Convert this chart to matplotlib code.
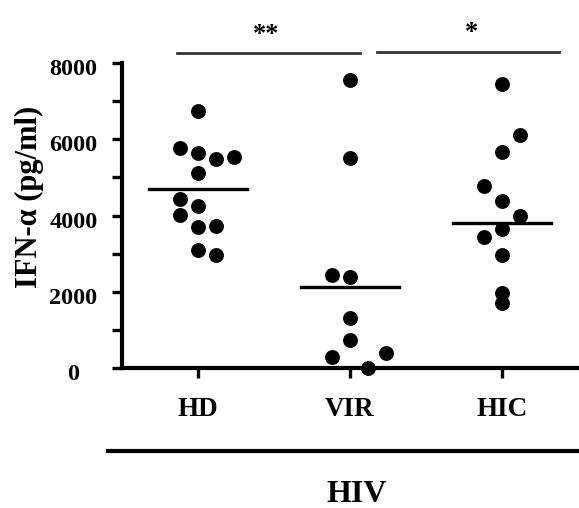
import matplotlib
matplotlib.use("Agg")
import matplotlib.pyplot as plt
from matplotlib.lines import Line2D
from matplotlib.transforms import ScaledTranslation
import numpy as np

plt.rcParams['font.family'] = ['Liberation Serif', 'DejaVu Serif']
plt.rcParams['font.weight'] = 'bold'

categories = ["HD", "VIR", "HIC"]
hd_values = [6741, 5762, 5648, 5543, 5473, 5123, 4433, 4257, 4013, 3725, 3706, 3095, 2964]
vir_values = [7554, 5517, 2439, 2395, 1303, 734, 402, 280, 0]
hic_values = [7449, 6111, 5674, 4782, 4388, 3987, 3638, 3444, 2964, 1975, 1697]
center_lines = [4695, 2115, 3795]
y_ticks = [0, 2000, 4000, 6000, 8000]
group_label = "HIV"
ylabel = "IFN-\u03b1 (pg/ml)"
sig_labels = ["**", "*"]

# layout: swarm slot for each point (horizontal column index)
hd_slots = [0, -1, 0, 2, 1, 0, -1, 0, -1, 1, 0, 0, 1]
vir_slots = [0, 0, -1, 0, 0, 0, 2, -1, 1]
hic_slots = [0, 1, 0, -1, 0, 1, 0, -1, 0, 0, 0]
slot_w = 0.12

W, H = 579, 508
fig = plt.figure(figsize=(W / 100, H / 100), dpi=100)
x0, x1, ytop, ybot = 122, 578, 63, 368
ax = fig.add_axes([x0 / W, 1 - ybot / H, (x1 - x0) / W, (ybot - ytop) / H])

for i, (vals, slots) in enumerate([(hd_values, hd_slots), (vir_values, vir_slots), (hic_values, hic_slots)]):
    xs = i + np.array(slots) * slot_w
    ax.scatter(xs, vals, s=115, color='black', zorder=3, clip_on=False, linewidths=0)
    ax.plot([i - 0.325, i + 0.325], [center_lines[i]] * 2, color='black', lw=2.4, zorder=4)

ax.set_xlim(-0.5, 2.5)
ax.set_ylim(0, 8000)
all_ticks = np.arange(0, 8001, 1000)
ax.set_yticks(all_ticks)
ax.set_yticklabels([str(v) if v in y_ticks else "" for v in all_ticks])
ax.set_xticks(range(len(categories)))
ax.set_xticklabels([])
for sp in ['top', 'right']:
    ax.spines[sp].set_visible(False)
for sp in ['left', 'bottom']:
    ax.spines[sp].set_linewidth(3)
ax.tick_params(axis='y', length=7, width=2.4, labelsize=17.5, pad=28)
ax.tick_params(axis='x', length=7, width=2.4)
shift = ScaledTranslation(0, -4 / 100, fig.dpi_scale_trans)
for lab in ax.get_yticklabels():
    lab.set_fontweight('bold')
    lab.set_horizontalalignment('center')
    lab.set_transform(lab.get_transform() + shift)

# category labels
for i, c in enumerate(categories):
    ax.annotate(c, xy=(i, 0), xycoords=('data', 'axes fraction'), xytext=(0, -(410 - ybot) * 0.72),
                textcoords='offset points', ha='center', va='center', fontsize=19.5, fontweight='bold')

fig.text(29 / W, 1 - 197 / H, ylabel, rotation=90, ha='center', va='center',
         fontsize=22, fontweight='bold')

# bottom group line and label
fig.add_artist(Line2D([108 / W, 1.0], [1 - 451 / H] * 2, color='black', lw=3, transform=fig.transFigure))
fig.text(357 / W, 1 - 495 / H, group_label, ha='center', va='center', fontsize=23, fontweight='bold')

# significance bars
fig.add_artist(Line2D([177 / W, 360 / W], [1 - 53 / H] * 2, color='#333333', lw=2, transform=fig.transFigure))
fig.add_artist(Line2D([377 / W, 559 / W], [1 - 52 / H] * 2, color='#333333', lw=2, transform=fig.transFigure))
fig.text(266 / W, 1 - 34 / H, sig_labels[0], ha='center', va='center', fontsize=19, fontweight='bold')
fig.text(472 / W, 1 - 32 / H, sig_labels[1], ha='center', va='center', fontsize=19, fontweight='bold')

fig.savefig("out.png", dpi=100)
